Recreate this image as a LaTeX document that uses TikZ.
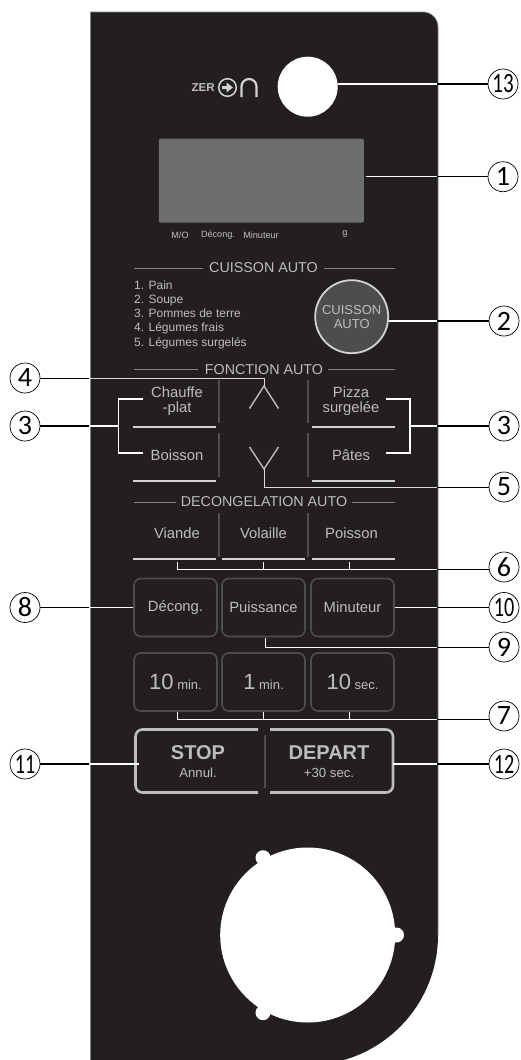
\documentclass[tikz,border=0pt]{standalone}
\usepackage{fontspec}
\usepackage{graphicx}
\setmainfont{Liberation Sans}
\newfontfamily\numfont{Carlito}
\definecolor{panel}{HTML}{231F20}
\definecolor{disp}{HTML}{6D6E70}
\definecolor{txt}{HTML}{BCBDBF}
\definecolor{rulec}{HTML}{808285}
\definecolor{sepc}{HTML}{4D4D4F}
\definecolor{barc}{HTML}{D1D2D4}
\definecolor{leadc}{HTML}{D8D8D8}
\tikzset{
  numc/.style={circle,draw=black,line width=0.7pt,fill=white,minimum size=30pt,inner sep=0pt,font=\numfont\fontsize{28}{28}\selectfont,text=black},
  lab/.style={text=txt,inner sep=0pt,align=center,font=\fontsize{14.8}{14.5}\selectfont},
  title/.style={text=txt,inner sep=0pt,font=\fontsize{14.3}{16}\selectfont},
  outl/.style={draw=black,line width=1.1pt},
  outthin/.style={draw=black,line width=0.7pt},
  inl/.style={draw=white,line width=1.1pt},
  greyl/.style={draw=leadc,line width=1pt},
  titlerule/.style={draw=rulec,line width=0.8pt},
  sepl/.style={draw=sepc,line width=2pt},
  barl/.style={draw=barc,line width=2.8pt},
  chev/.style={draw=txt,line width=1.4pt},
  keyb/.style={draw=sepc,line width=1.6pt,rounded corners=7pt,fill=panel,inner sep=0pt,text=txt,font=\fontsize{14.8}{16}\selectfont},
  small/.style={text=txt,inner sep=0pt,font=\fontsize{9.1}{10}\selectfont},
}
\begin{document}
\begin{tikzpicture}[x=1pt,y=-1pt]
\useasboundingbox (0,0) rectangle (520,1060);
% panel
\begin{scope}
\clip (0,0) rectangle (520,1060);
\fill[panel] (90.5,12) -- (423,12) arc[start angle=-90,end angle=0,radius=15] -- (438,935)
  arc[start angle=0,end angle=90,radius=130] -- (90.5,1065) -- cycle;
\draw[rulec,line width=0.6pt] (90.5,1060) -- (90.5,12) -- (423,12) arc[start angle=-90,end angle=0,radius=15] -- (438,935);
\end{scope}
% logo
\node[text=txt,inner sep=0pt,font=\bfseries\fontsize{11.5}{12}\selectfont,anchor=west] (zer) at (191.5,87.5) {ZER};
\draw[barc,line width=1.5pt] (227.5,87.5) circle (8.8);
\fill[barc] (222,86) -- (226.5,86) -- (226.5,82.5) -- (233,87.5) -- (226.5,92.5) -- (226.5,89) -- (222,89) -- cycle;
\draw[barc,line width=2.2pt] (241.5,97) -- (241.5,86.5) arc[start angle=180,end angle=360,radius=7.5] -- (256.5,97);
% sensor and display
\node[circle,fill=white,minimum size=60pt,inner sep=0pt] (sensor) at (307.7,86.7) {};
\node[rectangle,rounded corners=2pt,fill=disp,minimum width=205pt,minimum height=84pt,inner sep=0pt] (display) at (261.3,180.7) {};
\node[small] (dmo) at (180,235) {M/O};
\node[small] (ddec) at (218,235) {Décong.};
\node[small] (dmin) at (261,235) {Minuteur};
\node[small] (dg) at (345,234) {g};
% CUISSON AUTO
\node[title] (t1) at (263.5,268) {CUISSON AUTO};
\draw[titlerule] (134,268) -- (203,268);
\draw[titlerule] (324,268) -- (395,268);
\node[text=txt,inner sep=0pt,anchor=north west,align=left,font=\fontsize{12}{14.2}\selectfont] (list) at (134,280.5) {1. Pain\\2. Soupe\\3. Pommes de terre\\4. Légumes frais\\5. Légumes surgelés};
\node[circle,draw=barc,line width=1.8pt,fill=sepc,minimum size=73pt,inner sep=0pt,text=txt,align=center,font=\fontsize{13}{14.3}\selectfont] (cuisson) at (351.7,316.7) {CUISSON\\AUTO};
% FONCTION AUTO
\node[title] (t2) at (264,369.5) {FONCTION AUTO};
\draw[titlerule] (134,369.5) -- (198,369.5);
\draw[titlerule] (328,369.5) -- (395,369.5);
\foreach \x in {219,308} {
  \draw[sepl] (\x,380) -- (\x,423);
  \draw[sepl] (\x,433) -- (\x,477);
  \draw[sepl] (\x,513) -- (\x,557);
}
\draw[barl] (133,427) -- (216,427);
\draw[barl] (312,427) -- (395,427);
\draw[barl] (133,481) -- (216,481);
\draw[barl] (312,481) -- (395,481);
\node[lab] (chauffe) at (177,401) {Chauffe\\-plat};
\node[lab] (boisson) at (177,455) {Boisson};
\node[lab] (pizza) at (351,401) {Pizza\\surgelée};
\node[lab] (pates) at (351,455) {Pâtes};
\coordinate (upa) at (264,386);
\coordinate (dna) at (264,469);
\draw[chev] (249.5,408.5) -- (upa) -- (278.5,408.5);
\draw[chev] (249.5,447) -- (dna) -- (278.5,447);
% DECONGELATION AUTO
\node[title] (t3) at (264,502) {DECONGELATION AUTO};
\draw[titlerule] (134,502) -- (176,502);
\draw[titlerule] (352,502) -- (395,502);
\node[lab] (viande) at (177,533) {Viande};
\node[lab] (volaille) at (263.5,533) {Volaille};
\node[lab] (poisson) at (351.5,533) {Poisson};
\draw[barl] (133,559) -- (216,559);
\draw[barl] (222,559) -- (305,559);
\draw[barl] (312,559) -- (395,559);
% keys
\node[keyb,minimum width=83pt,minimum height=58pt] (kdec) at (175.5,607.5) {Décong.};
\node[keyb,minimum width=83pt,minimum height=58pt] (kpui) at (263.5,607.5) {Puissance};
\node[keyb,minimum width=83pt,minimum height=58pt] (kmin) at (352.5,607.5) {Minuteur};
\node[keyb,minimum width=83pt,minimum height=58pt] (kten) at (175.5,682) {\fontsize{22}{22}\selectfont 10\fontsize{13}{13}\selectfont~min.};
\node[keyb,minimum width=83pt,minimum height=58pt] (kone) at (263.5,682) {\fontsize{22}{22}\selectfont 1\fontsize{13}{13}\selectfont~min.};
\node[keyb,minimum width=83pt,minimum height=58pt] (ksec) at (352.5,682) {\fontsize{22}{22}\selectfont 10\fontsize{13}{13}\selectfont~sec.};
% stop / depart
\draw[draw=txt,line width=2.6pt,rounded corners=7pt] (258,729.5) -- (135.5,729.5) -- (135.5,792.5) -- (258,792.5);
\draw[draw=txt,line width=2.6pt,rounded corners=7pt] (270,729.5) -- (393,729.5) -- (393,792.5) -- (270,792.5);
\draw[draw=sepc,line width=2pt] (264.5,735) -- (264.5,788);
\node[text=txt,inner sep=0pt,font=\bfseries\fontsize{20}{22}\selectfont] (stop) at (198,753) {STOP};
\node[lab,font=\fontsize{13.2}{14}\selectfont] (annul) at (198,772.5) {Annul.};
\node[text=txt,inner sep=0pt,font=\bfseries\fontsize{20}{22}\selectfont] (depart) at (329,753) {DEPART};
\node[lab,font=\fontsize{13.2}{14}\selectfont] (plus) at (329,773) {+30 sec.};
% knob
\fill[white] (307.7,935) circle (87.5);
\fill[white] (263,857.7) circle (7.5);
\fill[white] (263,1012.7) circle (7.5);
\fill[white] (396.5,935) circle (7.5);
% numbered circles
\node[numc] (n13) at (503,84) {\scalebox{0.75}[1]{13}};
\node[numc] (n1) at (503,176.7) {1};
\node[numc] (n2) at (504,321) {2};
\node[numc] (n3l) at (25,426) {3};
\node[numc] (n3r) at (504,426) {3};
\node[numc] (n4) at (25,378) {4};
\node[numc] (n5) at (504,487) {5};
\node[numc] (n6) at (504,567) {6};
\node[numc] (n7) at (504,716) {7};
\node[numc] (n8) at (25,607.5) {8};
\node[numc] (n9) at (504,647) {9};
\node[numc] (n10) at (504,607.5) {\scalebox{0.72}[1]{10}};
\node[numc] (n11) at (25,764) {\scalebox{0.72}[1]{11}};
\node[numc] (n12) at (504,764) {\scalebox{0.72}[1]{12}};
% edge points where leaders cross the panel edge
\coordinate (e13) at (437,84);
\coordinate (e1) at (437,176.7);
\coordinate (e2) at (437,321);
\coordinate (e3l) at (89,426);
\coordinate (e3r) at (437,426);
\coordinate (e4) at (89,378);
\coordinate (e5) at (437,487);
\coordinate (e6) at (437,569);
\coordinate (e7) at (437,719);
\coordinate (e8) at (89,607.5);
\coordinate (e9) at (437,647);
\coordinate (e10) at (437,607.5);
\coordinate (e11) at (89,764);
\coordinate (e12) at (437,764);
% leaders outside the panel
\foreach \a/\b in {n13/e13,n1/e1,n2/e2,n3l/e3l,n3r/e3r,n8/e8,n10/e10,n11/e11,n12/e12} \draw[outl] (\a) -- (\b);
\foreach \a/\b in {n4/e4,n5/e5,n9/e9} \draw[outthin] (\a) -- (\b);
\draw[outthin] (e6) -- (e6 -| n6.west);
\draw[outthin] (e7) -- (e7 -| n7.west);
% leaders inside the panel
\draw[inl] (e13 -| sensor.east) -- (e13);
\draw[inl] (366,176.7) -- (e1);
\draw[inl] (e2 -| cuisson.east) -- (e2);
\draw[inl] (e3l) -- (118.7,426);
\draw[inl] (143,399) -- (118.7,399) -- (118.7,453) -- (143,453);
\draw[inl] (e3r) -- (410,426);
\draw[inl] (386,399) -- (410,399) -- (410,453) -- (386,453);
\draw[greyl] (e4) -- (264,378) -- (upa);
\draw[greyl] (dna) -- (264,487) -- (e5);
\draw[inl,line width=1pt] (e6) -- (177,569) -- (177,562);
\draw[inl,line width=1pt] (263,569) -- (263,562);
\draw[inl,line width=1pt] (349,569) -- (349,562);
\draw[inl] (e8) -- (kdec);
\draw[inl] (kmin) -- (e10);
\draw[inl,line width=1pt] (e9) -- (265.5,647) -- (265.5,637.5);
\draw[inl,line width=1pt] (e7) -- (177,719) -- (177,712);
\draw[inl,line width=1pt] (263,719) -- (263,712);
\draw[inl,line width=1pt] (349,719) -- (349,712);
\draw[inl] (e11) -- (139,764);
\draw[inl] (393,764) -- (e12);
\end{tikzpicture}
\end{document}
